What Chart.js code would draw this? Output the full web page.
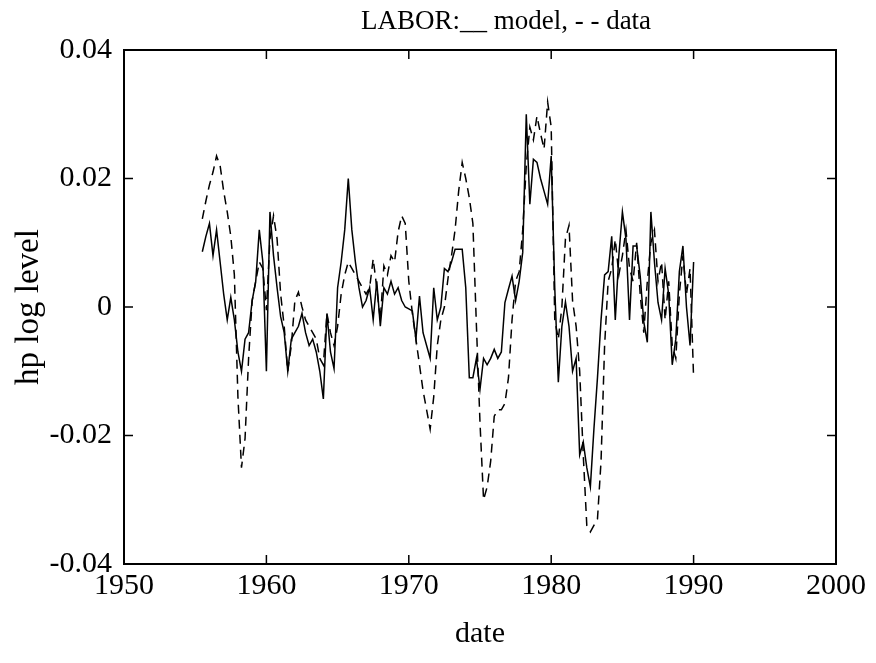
<!DOCTYPE html>
<html>
<head>
<meta charset="utf-8">
<script src="https://cdn.jsdelivr.net/npm/chart.js@4/dist/chart.umd.min.js"></script>
<style>
  html, body { margin: 0; padding: 0; background: #fff; }
  #wrap { width: 876px; height: 663px; }
</style>
</head>
<body>
<div id="wrap"><canvas id="laborChart" width="876" height="663"></canvas></div>
<script>
// quarterly observations, first one is 1955 Q3
var firstQuarter = 1955.5;

var modelSeries = [
  0.0086, 0.011, 0.013, 0.008, 0.012, 0.007, 0.002, -0.002, 0.0015, -0.002,
  -0.007, -0.010, -0.005, -0.004, 0.001, 0.004, 0.012, 0.007, -0.010, 0.0148,
  0.008, 0.003, -0.0015, -0.004, -0.010, -0.005, -0.004, -0.003, -0.001, -0.004,
  -0.006, -0.005, -0.007, -0.010, -0.0143, -0.001, -0.007, -0.0096, 0.003, 0.007,
  0.012, 0.020, 0.012, 0.007, 0.003, 0.000, 0.001, 0.003, -0.002, 0.004,
  -0.003, 0.003, 0.002, 0.004, 0.002, 0.003, 0.001, 0.000, -0.0003, -0.0006,
  -0.005, 0.0017, -0.004, -0.006, -0.008, 0.003, -0.002, 0.000, 0.006, 0.0055,
  0.007, 0.009, 0.009, 0.009, 0.003, -0.011, -0.011, -0.008, -0.0128, -0.008,
  -0.009, -0.008, -0.0066, -0.008, -0.007, 0.0007, 0.0028, 0.0048, 0.001, 0.004,
  0.0085, 0.030, 0.016, 0.023, 0.0225, 0.020, 0.018, 0.016, 0.0235, 0.003,
  -0.0117, -0.003, 0.0008, -0.003, -0.010, -0.008, -0.023, -0.021, -0.025, -0.028,
  -0.019, -0.011, -0.002, 0.005, 0.0055, 0.011, -0.002, 0.008, 0.0148, 0.0106,
  -0.002, 0.0095, 0.0095, 0.0048, -0.0023, -0.0055, 0.0148, 0.007, 0.0007, -0.002,
  0.006, 0.002, -0.009, -0.005, 0.0055, 0.0095, 0.000, -0.006, 0.007
];

var dataSeries = [
  0.0137, 0.0165, 0.019, 0.021, 0.0235, 0.022, 0.018, 0.0148, 0.011, 0.005,
  -0.014, -0.025, -0.0205, -0.008, 0.001, 0.004, 0.007, 0.006, -0.0005, 0.0106,
  0.0142, 0.0106, 0.002, -0.003, -0.010, -0.006, 0.001, 0.0023, 0.000, -0.002,
  -0.003, -0.004, -0.005, -0.008, -0.009, -0.001, -0.004, -0.006, -0.003, 0.002,
  0.005, 0.007, 0.006, 0.005, 0.004, 0.003, 0.002, 0.003, 0.0075, 0.003,
  -0.002, 0.0064, 0.005, 0.008, 0.007, 0.0117, 0.0142, 0.013, 0.004, -0.001,
  -0.005, -0.009, -0.013, -0.016, -0.019, -0.014, -0.006, -0.002, 0.000, 0.0044,
  0.008, 0.012, 0.018, 0.0225, 0.020, 0.017, 0.013, -0.003, -0.018, -0.030,
  -0.028, -0.024, -0.017, -0.016, -0.016, -0.015, -0.011, -0.002, 0.004, 0.0055,
  0.012, 0.022, 0.028, 0.026, 0.0297, 0.027, 0.0246, 0.0319, 0.028, -0.002,
  -0.005, 0.000, 0.0106, 0.0127, 0.001, -0.003, -0.010, -0.023, -0.034, -0.035,
  -0.034, -0.033, -0.024, -0.006, 0.004, 0.006, 0.0105, 0.005, 0.008, 0.012,
  0.006, 0.004, 0.010, 0.002, -0.004, 0.004, 0.010, 0.012, 0.004, 0.007,
  -0.002, 0.004, -0.006, -0.008, 0.002, 0.008, 0.002, 0.006, -0.011
];

var xTicks = [1950, 1960, 1970, 1980, 1990, 2000];
var yTicks = [-0.04, -0.02, 0, 0.02, 0.04];

function toPoints(values) {
  return values.map(function (v, i) {
    return { x: firstQuarter + i / 4, y: v };
  });
}

var serif = "'Liberation Serif', 'DejaVu Serif', serif";

// frame with inward tick marks, plus the title
var framePlugin = {
  id: 'frame',
  afterDraw: function (chart) {
    var ctx = chart.ctx;
    var a = chart.chartArea;
    var xs = chart.scales.x, ys = chart.scales.y;
    ctx.save();
    ctx.strokeStyle = '#000';
    ctx.lineWidth = 2;
    ctx.strokeRect(a.left, a.top, a.right - a.left, a.bottom - a.top);
    ctx.lineWidth = 1.5;
    ctx.beginPath();
    xTicks.slice(1, -1).forEach(function (t) {
      var px = xs.getPixelForValue(t);
      ctx.moveTo(px, a.bottom); ctx.lineTo(px, a.bottom - 9);
      ctx.moveTo(px, a.top); ctx.lineTo(px, a.top + 9);
    });
    yTicks.slice(1, -1).forEach(function (t) {
      var py = ys.getPixelForValue(t);
      ctx.moveTo(a.left, py); ctx.lineTo(a.left + 9, py);
      ctx.moveTo(a.right, py); ctx.lineTo(a.right - 9, py);
    });
    ctx.stroke();

    ctx.fillStyle = '#000';
    ctx.font = '27px ' + serif;
    ctx.textAlign = 'center';
    ctx.textBaseline = 'middle';
    ctx.fillText('LABOR:__ model, - - data', 506, 22);
    ctx.restore();
  }
};

var ctx = document.getElementById('laborChart').getContext('2d');
var laborChart = new Chart(ctx, {
  type: 'line',
  data: {
    datasets: [{
      label: 'model',
      data: toPoints(modelSeries),
      borderColor: '#000',
      borderWidth: 1.5,
      pointRadius: 0,
      tension: 0,
      fill: false
    }, {
      label: 'data',
      data: toPoints(dataSeries),
      borderColor: '#000',
      borderWidth: 1.5,
      borderDash: [9, 6],
      pointRadius: 0,
      tension: 0,
      fill: false
    }]
  },
  options: {
    responsive: false,
    animation: false,
    layout: { padding: { top: 50, right: 40, left: 0, bottom: 7 } },
    plugins: {
      legend: { display: false },
      title: { display: false },
      tooltip: { enabled: false }
    },
    scales: {
      x: {
        type: 'linear',
        min: 1950,
        max: 2000,
        grid: { display: false },
        border: { display: false },
        afterFit: function (scale) { scale.height = 92; },
        afterBuildTicks: function (scale) {
          scale.ticks = xTicks.map(function (v) { return { value: v }; });
        },
        ticks: {
          color: '#000',
          font: { family: serif, size: 30 },
          padding: -4,
          maxRotation: 0,
          callback: function (v) { return String(v); }
        },
        title: {
          display: true,
          text: 'date',
          color: '#000',
          font: { family: serif, size: 30 },
          padding: { top: 0 }
        }
      },
      y: {
        min: -0.04,
        max: 0.04,
        grid: { display: false },
        border: { display: false },
        afterFit: function (scale) { scale.width = 124; },
        afterBuildTicks: function (scale) {
          scale.ticks = yTicks.map(function (v) { return { value: v }; });
        },
        ticks: {
          color: '#000',
          font: { family: serif, size: 30 },
          padding: 4,
          callback: function (v) {
            var r = Math.round(v * 100) / 100;
            return r === 0 ? '0' : r.toFixed(2);
          }
        },
        title: {
          display: true,
          text: 'hp log level',
          color: '#000',
          font: { family: serif, size: 33 },
          padding: { top: 10, bottom: 0 }
        }
      }
    }
  },
  plugins: [framePlugin]
});
</script>
</body>
</html>
